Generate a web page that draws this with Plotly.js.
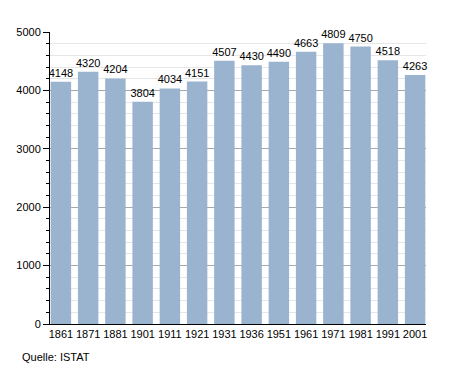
<!DOCTYPE html>
<html><head><meta charset="utf-8">
<script src="https://cdn.plot.ly/plotly-3.0.1.min.js"></script>
<style>html,body{margin:0;padding:0;background:#fff}#c{width:455px;height:373px}</style>
</head><body><div id="c"></div>
<script>
const years = ["1861","1871","1881","1901","1911","1921","1931","1936","1951","1961","1971","1981","1991","2001"];
const population = [4148,4320,4204,3804,4034,4151,4507,4430,4490,4663,4809,4750,4518,4263];
const yTicks = [0,1000,2000,3000,4000,5000];
const sourceText = "Quelle: ISTAT";

const font = {family: "Liberation Sans, Arial, sans-serif", size: 11, color: "#000"};
Plotly.newPlot("c", [{
  type: "bar",
  x: years,
  y: population,
  marker: {color: "#9ab3cf", line: {width: 0}},
  text: population.map(String),
  textposition: "outside",
  constraintext: "none",
  textfont: font,
  cliponaxis: false,
  hoverinfo: "none"
}], {
  width: 455, height: 373,
  margin: {l: 50, r: 29, t: 32, b: 49},
  paper_bgcolor: "#fff", plot_bgcolor: "#fff",
  bargap: 0.25,
  font: font,
  showlegend: false,
  xaxis: {
    type: "category", range: [-0.4, 13.4],
    showline: true, linecolor: "#000", linewidth: 1,
    ticks: "", showgrid: false, tickfont: font
  },
  yaxis: {
    range: [0, 5000], tickvals: yTicks, ticktext: yTicks.map(String),
    showline: true, linecolor: "#000", linewidth: 1,
    ticks: "outside", ticklen: 6, tickcolor: "#000",
    showgrid: true, gridcolor: "#a8a8a8", gridwidth: 1,
    zeroline: false, tickfont: font,
    minor: {dtick: 200, tick0: 0, showgrid: true, gridcolor: "#e6e6e6", ticks: "outside", ticklen: 3, tickcolor: "#000"}
  },
  annotations: [{
    text: sourceText, xref: "paper", yref: "paper", x: -30/376, y: -25/292,
    xanchor: "left", yanchor: "top", showarrow: false, font: font
  }]
}, {displayModeBar: false, staticPlot: true});
</script></body></html>
